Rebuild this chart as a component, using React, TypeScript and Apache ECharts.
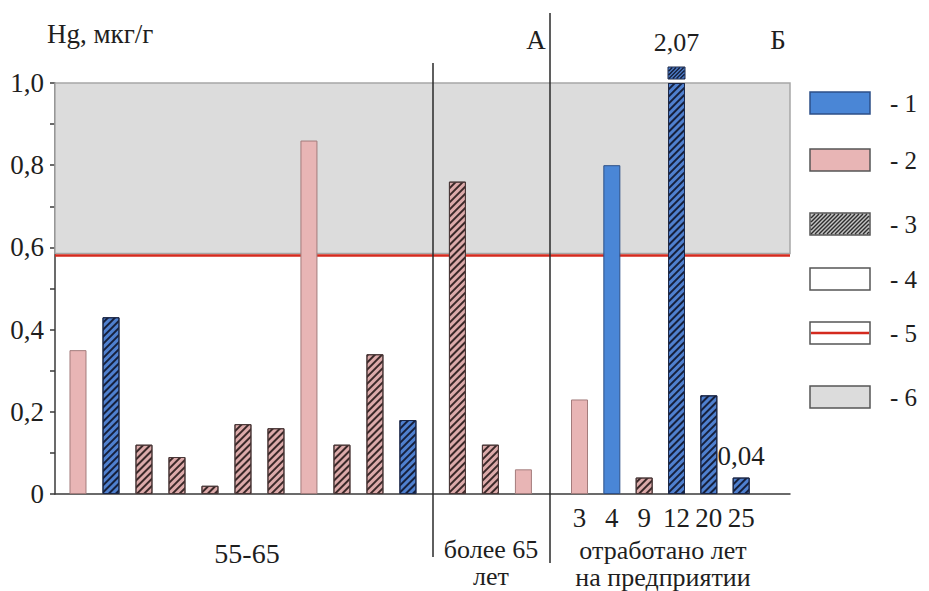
import React, { useEffect, useRef } from 'react';
import * as echarts from 'echarts';

// ---- data ----
const groupNames = ['55-65', 'более 65\nлет', 'отработано лет\nна предприятии'];
const group1Values = [0.35, 0.43, 0.12, 0.09, 0.02, 0.17, 0.16, 0.86, 0.12, 0.34, 0.18];
const group1Kinds = ['p', 'bh', 'ph', 'ph', 'ph', 'ph', 'ph', 'p', 'ph', 'ph', 'bh'];
const group2Values = [0.76, 0.12, 0.06];
const group2Kinds = ['ph', 'ph', 'p'];
const group3Labels = ['3', '4', '9', '12', '20', '25'];
const group3Values = [0.23, 0.8, 0.04, 2.07, 0.24, 0.04];
const group3Kinds = ['p', 'b', 'ph', 'bh', 'bh', 'bh'];
const group3ShowValue = [false, false, false, true, false, true];
const thresholdValue = 0.585;
const zoneTop = 1.0;
const legendLabels = ['- 1', '- 2', '- 3', '- 4', '- 5', '- 6'];

// ---- layout helpers (slot positions on the x value axis) ----
const groupStart = [0, 11.5, 15.2];
const groupStep = [1, 1, 0.98];
const Y_MAX = 1.0;
const FONT = 'Liberation Serif';
const TEXT = '#1e1e1e';

const hatchDecal = (color: string) => ({
  symbol: 'rect',
  symbolSize: 1,
  dashArrayX: [1, 0],
  dashArrayY: [1.6, 2.2],
  rotation: -Math.PI / 4,
  color,
});

const kindStyle = (k: string): any => {
  if (k === 'p') return { color: '#e8b5b5', borderColor: '#a37c7c', borderWidth: 1 };
  if (k === 'b') return { color: '#4a86d6', borderColor: '#2c4f88', borderWidth: 1 };
  if (k === 'bh') return { color: '#4f80cf', borderColor: '#1b2747', borderWidth: 1, decal: hatchDecal('#16203c') };
  return { color: '#dcaaaa', borderColor: '#4a3838', borderWidth: 1, decal: hatchDecal('#3a2828') };
};
const kindHatchColor = (k: string) => (k === 'bh' ? '#16203c' : '#3a2828');

const groupsValues = [group1Values, group2Values, group3Values];
const groupsKinds = [group1Kinds, group2Kinds, group3Kinds];
const pos = (g: number, i: number) => groupStart[g] + groupStep[g] * i;
const fmt = (v: number) => String(v).replace('.', ',');

function hatch(x: number, y: number, w: number, h: number, step: number, color: string, z = 20) {
  const els: any[] = [];
  for (let s = -h; s < w; s += step) {
    const yTop = Math.max(0, s + h - w);
    const yBot = Math.min(h, s + h);
    if (yBot <= yTop) continue;
    els.push({
      type: 'line',
      shape: { x1: x + s + h - yBot, y1: y + yBot, x2: x + s + h - yTop, y2: y + yTop },
      style: { stroke: color, lineWidth: 1.5 },
      z,
    });
  }
  return els;
}

const txt = (text: string, x: number, y: number, size: number, align = 'center', extra: any = {}) => ({
  type: 'text',
  x,
  y,
  z: 21,
  style: { text, fontFamily: FONT, fontSize: size, fill: TEXT, align, verticalAlign: 'middle', ...extra },
});

export default function App() {
  const ref = useRef<HTMLDivElement>(null);
  useEffect(() => {
    if (!ref.current) return;
    const chart = echarts.init(ref.current, undefined, { renderer: 'svg' });

    const barData: any[] = [];
    const breakData: any[] = [];
    groupsValues.forEach((vals, g) => {
      vals.forEach((v, i) => {
        const x = pos(g, i);
        const kind = groupsKinds[g][i];
        const st = kindStyle(kind);
        const item: any = { value: [x, Math.min(v, Y_MAX)], itemStyle: st };
        const showVal = g === 2 && group3ShowValue[i];
        if (v > Y_MAX) {
          breakData.push({ value: [x, v], kind, showVal });
        } else if (showVal) {
          item.label = { show: true, position: 'top', distance: 8, formatter: fmt(v), fontFamily: FONT, fontSize: 27, color: TEXT };
        }
        barData.push(item);
      });
    });

    const g3Pos = group3Labels.map((_, i) => pos(2, i));

    const legendTops = [92, 149, 213, 268, 322, 386];
    const legendEls: any[] = [];
    legendTops.forEach((top, i) => {
      const fills = ['#4a86d6', '#e8b5b5', '#c4c4c4', '#ffffff', '#ffffff', '#dcdcdc'];
      legendEls.push({
        type: 'rect',
        shape: { x: 810, y: top, width: 60, height: 22 },
        style: { fill: fills[i], stroke: i === 0 ? '#2c4f88' : '#555', lineWidth: 1.5 },
        z: 19,
      });
      if (i === 2) legendEls.push(...hatch(811, top + 1, 58, 20, 4, '#2e2e2e'));
      if (i === 4)
        legendEls.push({
          type: 'line',
          shape: { x1: 811, y1: top + 11, x2: 869, y2: top + 11 },
          style: { stroke: '#d42a1e', lineWidth: 2.5 },
          z: 21,
        });
      legendEls.push(txt(legendLabels[i], 890, top + 11, 25, 'left'));
    });

    const [g2a, g2b] = groupNames[1].split('\n');
    const [g3a, g3b] = groupNames[2].split('\n');
    const tight = { lineHeight: 22 };

    const option: any = {
      animation: false,
      backgroundColor: '#ffffff',
      grid: { left: 55, right: 139, top: 83, bottom: 97, containLabel: false },
      xAxis: {
        type: 'value',
        min: -0.697,
        max: 21.58,
        axisLine: { show: true, onZero: false, lineStyle: { color: '#3a3a3a', width: 1.5 } },
        axisTick: { show: false },
        splitLine: { show: false },
        axisLabel: {
          show: true,
          customValues: g3Pos,
          margin: 10,
          fontFamily: FONT,
          fontSize: 27,
          color: TEXT,
          formatter: (v: number) => {
            const idx = g3Pos.findIndex((p) => Math.abs(p - v) < 1e-6);
            return idx >= 0 ? group3Labels[idx] : '';
          },
        },
      },
      yAxis: {
        type: 'value',
        min: 0,
        max: Y_MAX,
        interval: 0.2,
        axisLine: { show: true, onZero: false, lineStyle: { color: '#3a3a3a', width: 1.5 } },
        axisTick: { show: true, length: 5, lineStyle: { color: '#3a3a3a', width: 1.5 } },
        minorTick: { show: true, splitNumber: 2, length: 5, lineStyle: { color: '#3a3a3a', width: 1.5 } },
        splitLine: { show: false },
        minorSplitLine: { show: false },
        axisLabel: {
          margin: 11,
          fontFamily: FONT,
          fontSize: 27,
          color: TEXT,
          formatter: (v: number) => (v === 0 ? '0' : v.toFixed(1).replace('.', ',')),
        },
      },
      series: [
        {
          type: 'bar',
          name: 'bars',
          z: 3,
          barWidth: 17,
          data: barData,
          markArea: {
            silent: true,
            z: 1,
            itemStyle: { color: '#dcdcdc', borderColor: '#a6a6a6', borderWidth: 1.5 },
            label: { show: false },
            data: [[{ yAxis: thresholdValue }, { yAxis: zoneTop }]],
          },
          markLine: {
            silent: true,
            z: 2,
            symbol: 'none',
            label: { show: false },
            lineStyle: { color: '#d42a1e', width: 2.5, type: 'solid' },
            data: [{ yAxis: thresholdValue }],
          },
        },
        {
          type: 'custom',
          name: 'break',
          z: 4,
          clip: false,
          silent: true,
          data: breakData,
          renderItem: (params: any, api: any) => {
            const d = breakData[params.dataIndex];
            const top = api.coord([api.value(0), Y_MAX]);
            const w = 17;
            const x0 = top[0] - w / 2;
            const y0 = top[1] - 16;
            const h = 12;
            const st = kindStyle(d.kind);
            const children: any[] = [
              { type: 'rect', shape: { x: x0, y: y0, width: w, height: h }, style: { fill: st.color, stroke: st.borderColor, lineWidth: 1 } },
              ...hatch(x0 + 0.5, y0 + 0.5, w - 1, h - 1, 3.8, kindHatchColor(d.kind), 0),
            ];
            if (d.showVal) {
              children.push({
                type: 'text',
                x: top[0],
                y: y0 - 25,
                style: { text: fmt(api.value(1)), fontFamily: FONT, fontSize: 26, fill: TEXT, align: 'center', verticalAlign: 'middle' },
              });
            }
            return { type: 'group', children };
          },
        },
      ],
      graphic: [
        { type: 'line', shape: { x1: 433, y1: 63, x2: 433, y2: 557 }, style: { stroke: '#2a2a2a', lineWidth: 1.5 }, z: 10 },
        { type: 'line', shape: { x1: 550, y1: 13, x2: 550, y2: 563 }, style: { stroke: '#2a2a2a', lineWidth: 1.5 }, z: 10 },
        txt('Hg, мкг/г', 47, 34, 27, 'left'),
        txt('А', 536, 40, 27),
        txt('Б', 778, 40, 27),
        txt(groupNames[0], 247, 553, 28),
        txt(g2a, 491, 549, 26, 'center', tight),
        txt(g2b, 491, 576, 26, 'center', tight),
        txt(g3a, 663, 550, 26, 'center', tight),
        txt(g3b, 663, 577, 26, 'center', tight),
        ...legendEls,
      ],
    };
    chart.setOption(option);
    return () => chart.dispose();
  }, []);
  return <div ref={ref} style={{ position: 'absolute', left: 0, top: 0, width: 929, height: 591 }} />;
}
